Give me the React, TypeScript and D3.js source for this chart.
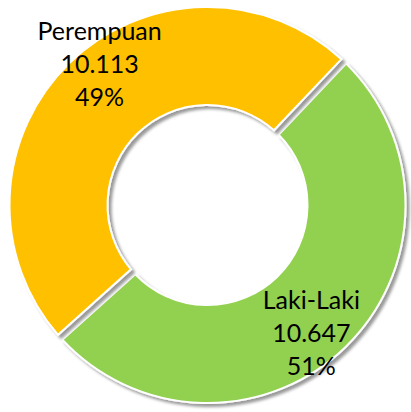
import React from "react";
import * as d3 from "d3";

// data
const categories = ["Laki-Laki", "Perempuan"];
const values = [10647, 10113];
const colors = ["#92D050", "#FFC000"];

const W = 411;
const H = 412;
const cx = 207.5;
const cy = 205;
const outerR = 198;
const innerR = 100;
const startDeg = 43.5;

// Indonesian number format (dot as thousands separator)
const idLocale = d3.formatLocale({
    decimal: ",",
    thousands: ".",
    grouping: [3],
    currency: ["Rp", ""],
});
const fmt = idLocale.format(",d");

const App = () => {
    const total = d3.sum(values);
    const data = categories.map((c, i) => ({ name: c, value: values[i], color: colors[i] }));

    const start = (startDeg * Math.PI) / 180;
    const pie = d3
        .pie<any>()
        .sort(null)
        .value((d) => d.value)
        .startAngle(start)
        .endAngle(start + 2 * Math.PI)
        .padAngle(6.5 / outerR);

    const arc = d3
        .arc<any>()
        .innerRadius(innerR)
        .outerRadius(outerR)
        .padRadius(outerR);

    const labelArc = d3
        .arc<any>()
        .innerRadius((innerR + outerR) / 2)
        .outerRadius((innerR + outerR) / 2);

    const arcs = pie(data);

    // nudges so labels sit where the original placed them
    const nudge = [
        [0, 30],
        [-4, -25],
    ];

    return (
        <svg width={W} height={H} style={{ position: "absolute", left: 0, top: 0 }}>
            <defs>
                <filter id="shadow" x="-10%" y="-10%" width="120%" height="120%">
                    <feDropShadow dx="3" dy="3" stdDeviation="1.6" floodColor="#000" floodOpacity="0.4" />
                </filter>
            </defs>
            <rect width={W} height={H} fill="#fff" />
            <g transform={`translate(${cx},${cy})`}>
                {arcs.map((a, i) => (
                    <path
                        key={i}
                        d={arc(a) as string}
                        fill={a.data.color}
                        stroke="#fff"
                        strokeWidth={2}
                        filter="url(#shadow)"
                    />
                ))}
                {arcs.map((a, i) => {
                    const [x, y] = labelArc.centroid(a);
                    const tx = x + nudge[i][0];
                    const ty = y + nudge[i][1];
                    const pct = Math.round((a.data.value / total) * 100) + "%";
                    return (
                        <text
                            key={"l" + i}
                            x={tx}
                            y={ty}
                            textAnchor="middle"
                            fontFamily="Lato, 'Open Sans', sans-serif"
                            fontSize={25}
                            fill="#000"
                        >
                            <tspan x={tx} dy={-33}>{a.data.name}</tspan>
                            <tspan x={tx} dy={33}>{fmt(a.data.value)}</tspan>
                            <tspan x={tx} dy={33}>{pct}</tspan>
                        </text>
                    );
                })}
            </g>
        </svg>
    );
};

export default App;
